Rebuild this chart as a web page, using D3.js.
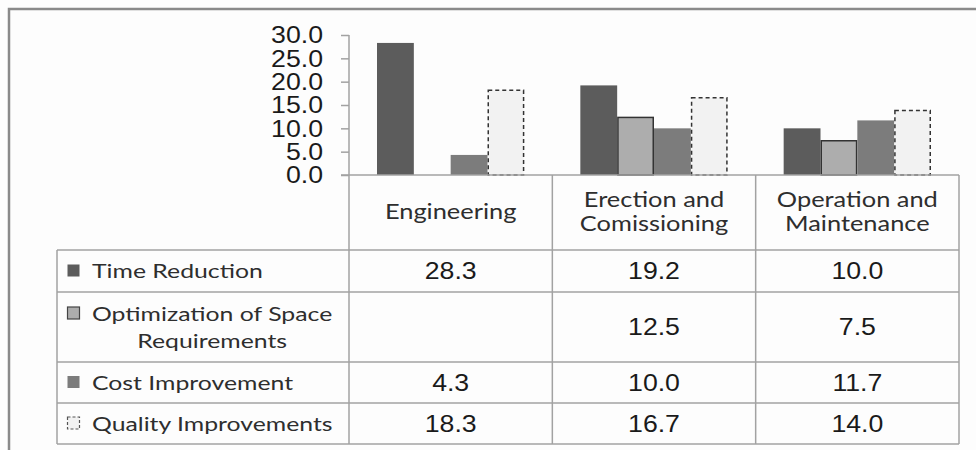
<!DOCTYPE html>
<html>
<head>
<meta charset="utf-8">
<script src="https://cdn.jsdelivr.net/npm/d3@7"></script>
<style>
  html, body { margin: 0; padding: 0; background: #fdfdfd; }
  svg { display: block; }
</style>
</head>
<body>
<svg id="chart" width="976" height="450"></svg>
<script>
// ---------- data ----------
const categories = ["Engineering", "Erection and Comissioning", "Operation and Maintenance"];
const categoryLines = [["Engineering"], ["Erection and", "Comissioning"], ["Operation and", "Maintenance"]];
const seriesNames = ["Time Reduction", "Optimization of Space Requirements", "Cost Improvement", "Quality Improvements"];
const seriesLines = [["Time Reduction"], ["Optimization of Space", "Requirements"], ["Cost Improvement"], ["Quality Improvements"]];
const timeReduction = [28.3, 19.2, 10.0];
const spaceOptimization = [null, 12.5, 7.5];
const costImprovement = [4.3, 10.0, 11.7];
const qualityImprovements = [18.3, 16.7, 14.0];
const yTicks = [0, 5, 10, 15, 20, 25, 30];

const seriesValues = [timeReduction, spaceOptimization, costImprovement, qualityImprovements];
const seriesStyle = [
  { fill: "#5c5c5c", stroke: "none", dash: null, sw: 0 },
  { fill: "#adadad", stroke: "#333", dash: null, sw: 1.5 },
  { fill: "#7c7c7c", stroke: "none", dash: null, sw: 0 },
  { fill: "#f2f2f2", stroke: "#333", dash: "4,3", sw: 1.5 }
];

// ---------- layout ----------
const svg = d3.select("#chart");
const plotLeft = 349, plotRight = 959;
const plotTop = 35, axisY = 175;
const headerBottom = 250;
const rowBounds = [250, 292, 362, 403, 444];
const tableLeft = 57;
const lineColor = "#a2a2a2";
const calibri = "Lato, 'Open Sans', sans-serif";
const arial = "'Liberation Sans', Arial, sans-serif";
const sxCal = 1.24, sxAr = 1.16;

const x = d3.scaleBand().domain(categories).range([plotLeft, plotRight]).paddingInner(0).paddingOuter(0);
const xs = d3.scaleBand().domain(seriesNames).range([28, x.bandwidth() - 28]).padding(0);
const y = d3.scaleLinear().domain([0, 30]).range([axisY, plotTop]);

// outer frame
svg.append("path")
  .attr("d", `M9,452 V9 H978`)
  .attr("fill", "none").attr("stroke", "#8a8a8a").attr("stroke-width", 2.5);

function stretchText(g, txt, px, py, opts) {
  return g.append("text")
    .attr("transform", `translate(${px},${py}) scale(${opts.sx},1)`)
    .attr("text-anchor", opts.anchor || "middle")
    .attr("font-family", opts.family)
    .attr("font-size", opts.size)
    .attr("fill", opts.fill || "#222")
    .text(txt);
}

// bars
const barsG = svg.append("g");
seriesNames.forEach((s, si) => {
  const st = seriesStyle[si];
  const data = categories.map((c, ci) => ({ c, v: seriesValues[si][ci] })).filter(d => d.v != null);
  barsG.selectAll(null).data(data).enter().append("rect")
    .attr("x", d => x(d.c) + xs(s) + (st.sw ? st.sw / 2 : 0))
    .attr("y", d => y(d.v) + (st.sw ? st.sw / 2 : 0))
    .attr("width", xs.bandwidth() - (st.sw ? st.sw : 0))
    .attr("height", d => axisY - y(d.v) - (st.sw ? st.sw / 2 : 0))
    .attr("fill", st.fill)
    .attr("stroke", st.stroke)
    .attr("stroke-width", st.sw)
    .attr("stroke-dasharray", st.dash);
});

// y axis
const yAxis = d3.axisLeft(y).tickValues(yTicks).tickSize(8).tickFormat(d3.format(".1f"));
const axG = svg.append("g").attr("transform", `translate(${plotLeft},0)`).call(yAxis);
axG.select(".domain").remove();
axG.selectAll(".tick line").attr("stroke", lineColor).attr("stroke-width", 1.5);
axG.selectAll(".tick text").each(function (d) {
  const t = d3.select(this);
  const txt = t.text();
  t.remove();
  stretchText(axG, txt, -26, y(d) + 8.2, { sx: sxAr, anchor: "end", family: arial, size: 23, fill: "#1a1a1a" });
});

// grid / table lines
const lines = svg.append("g").attr("stroke", lineColor).attr("stroke-width", 1.5);
lines.append("line").attr("x1", plotLeft).attr("x2", plotLeft).attr("y1", y(30)).attr("y2", rowBounds[rowBounds.length - 1]);
lines.append("line").attr("x1", plotLeft - 8).attr("x2", plotRight).attr("y1", axisY).attr("y2", axisY);
categories.forEach(c => {
  lines.append("line").attr("x1", x(c) + x.bandwidth()).attr("x2", x(c) + x.bandwidth())
    .attr("y1", axisY).attr("y2", rowBounds[rowBounds.length - 1]);
});
rowBounds.forEach(ry => {
  lines.append("line").attr("x1", tableLeft).attr("x2", plotRight).attr("y1", ry).attr("y2", ry);
});
lines.append("line").attr("x1", tableLeft).attr("x2", tableLeft).attr("y1", rowBounds[0]).attr("y2", rowBounds[rowBounds.length - 1]);

// category headers
const hdrG = svg.append("g");
categories.forEach((c, ci) => {
  const ls = categoryLines[ci];
  const cx = x(c) + x.bandwidth() / 2;
  const mid = (axisY + headerBottom) / 2;
  const lh = 24;
  ls.forEach((l, li) => {
    const cy = mid - 1 + (li - (ls.length - 1) / 2) * lh;
    stretchText(hdrG, l, cx, cy + 7.5, { sx: sxCal, family: calibri, size: 20.5, fill: "#2e2e2e" });
  });
});

// legend rows + values
const rowG = svg.append("g");
const fmt = d3.format(".1f");
const labelStart = 92;
seriesNames.forEach((s, si) => {
  const top = rowBounds[si], bot = rowBounds[si + 1];
  const mid = (top + bot) / 2;
  const ls = seriesLines[si];
  const lh = 27;
  const st = seriesStyle[si];
  const firstCy = mid - (ls.length - 1) / 2 * lh;
  // legend symbol
  rowG.append("rect")
    .attr("x", 67.5).attr("y", firstCy - 6.5).attr("width", 12).attr("height", 12)
    .attr("fill", st.fill)
    .attr("stroke", si === 1 ? "#444" : (si === 3 ? "#555" : "none"))
    .attr("stroke-width", si === 0 || si === 2 ? 0 : 1.2)
    .attr("stroke-dasharray", si === 3 ? "3,2" : null);
  // label: first line starts after symbol, following lines centred under the first
  const first = stretchText(rowG, ls[0], labelStart, firstCy + 7, { sx: sxCal, anchor: "start", family: calibri, size: 20, fill: "#2e2e2e" });
  const firstW = first.node().getComputedTextLength() * sxCal;
  ls.slice(1).forEach((l, li) => {
    stretchText(rowG, l, labelStart + firstW / 2, firstCy + (li + 1) * lh + 7, { sx: sxCal, anchor: "middle", family: calibri, size: 20, fill: "#2e2e2e" });
  });
  // values
  categories.forEach((c, ci) => {
    const v = seriesValues[si][ci];
    if (v == null) return;
    stretchText(rowG, fmt(v), x(c) + x.bandwidth() / 2, mid + 8.3, { sx: sxAr, family: arial, size: 23, fill: "#1a1a1a" });
  });
});
</script>
</body>
</html>
